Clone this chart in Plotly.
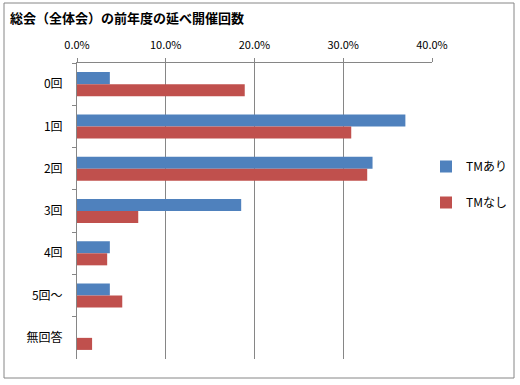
import plotly.graph_objects as go

categories = ["0回", "1回", "2回", "3回", "4回", "5回～", "無回答"]
tm_ari = [0.037, 0.370, 0.333, 0.185, 0.037, 0.037, 0.0]
tm_nashi = [0.189, 0.309, 0.327, 0.069, 0.034, 0.051, 0.017]
series_names = ["TMあり", "TMなし"]
x_ticks = [0, 0.1, 0.2, 0.3, 0.4]

W, H = 520, 385
ML, MR, MT, MB = 77, 88, 63, 26
pw, ph = W - ML - MR, H - MT - MB

def px_x(x):
    return (x - ML) / pw

def px_y(y):
    return (H - MB - y) / ph

FONT = "Noto Sans CJK JP, Noto Sans, sans-serif"

fig = go.Figure()
fig.add_trace(go.Bar(y=categories, x=tm_ari, name=series_names[0], orientation="h",
                     marker=dict(color="#4F81BD", line=dict(width=0)), legendgroup="a"))
fig.add_trace(go.Bar(y=categories, x=tm_nashi, name=series_names[1], orientation="h",
                     marker=dict(color="#C0504D", line=dict(width=0)), legendgroup="b"))

fig.update_layout(
    width=W, height=H,
    margin=dict(l=ML, r=MR, t=MT, b=MB, autoexpand=False),
    paper_bgcolor="white", plot_bgcolor="white",
    font=dict(family=FONT, size=11, color="#000000"),
    barmode="group", bargap=0.43, bargroupgap=0,
    title=dict(text="<b>総会（全体会）の前年度の延べ開催回数</b>", xref="container", yref="container",
               x=10 / W, xanchor="left", y=1 - 18 / H, yanchor="middle",
               font=dict(family=FONT, size=13, color="#000000")),
    xaxis=dict(side="top", range=[0, 0.4], tickvals=x_ticks, tickformat=".1%",
               showgrid=True, gridcolor="#868686", gridwidth=1,
               showline=True, linecolor="#868686", linewidth=1,
               ticks="outside", ticklen=4, tickcolor="#868686", ticklabelstandoff=5,
               zeroline=False, automargin=False, tickfont=dict(size=11)),
    yaxis=dict(autorange="reversed", type="category", automargin=False,
               showline=True, linecolor="#868686", linewidth=1,
               ticks="outside", ticklen=4, tickcolor="#868686", tickson="boundaries",
               ticklabelstandoff=11,
               showgrid=False, tickfont=dict(size=12)),
    legend=dict(xref="container", yref="container", x=426 / W, xanchor="left",
                y=1 - 152 / H, yanchor="top",
                font=dict(size=12), tracegroupgap=17, traceorder="grouped",
                itemwidth=30, bgcolor="rgba(0,0,0,0)"),
    shapes=[dict(type="rect", xref="paper", yref="paper",
                 x0=px_x(4), x1=px_x(514), y0=px_y(378), y1=px_y(3),
                 line=dict(color="#868686", width=1))],
)

fig.write_html("out.html", config={"displayModeBar": False},
               post_script="document.body.style.margin='0';document.body.style.overflow='hidden';")
